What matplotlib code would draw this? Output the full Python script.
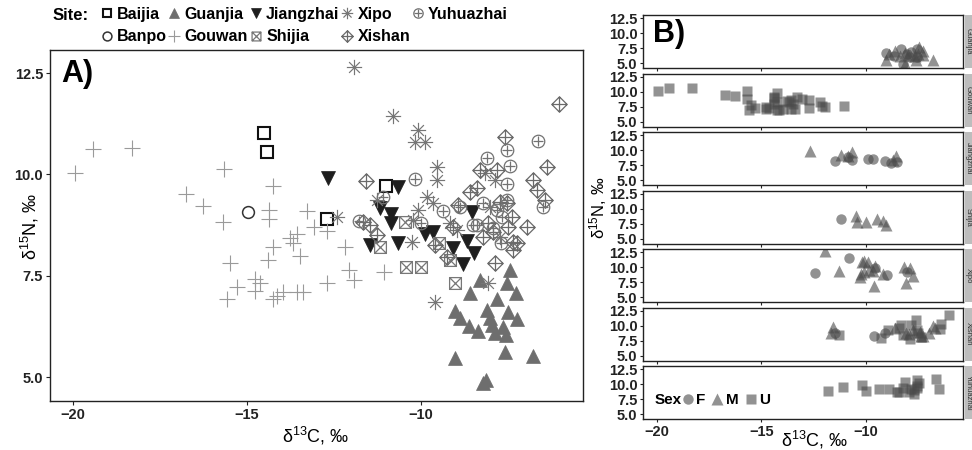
import matplotlib

matplotlib.use("Agg")
import matplotlib.pyplot as plt
from matplotlib.path import Path
from matplotlib.lines import Line2D
from matplotlib.patches import Rectangle

plt.rcParams["font.family"] = ["Liberation Sans", "DejaVu Sans"]
plt.rcParams["mathtext.fontset"] = "custom"
plt.rcParams["mathtext.rm"] = "Liberation Sans"
plt.rcParams["mathtext.it"] = "Liberation Sans:italic"

# ---- data: d13C (c) and d15N (n) per site, sex where panel B shows it ----
baijia_c = [-14.51, -14.43, -12.70, -11.01]
baijia_n = [11.02, 10.55, 8.90, 9.71]

banpo_c = [-14.97]
banpo_n = [9.07]

guanjia_c = [-9.02, -8.22, -8.13, -7.59, -6.78, -9.02, -8.88, -8.62, -8.36, -8.59, -7.82, -8.10,
             -8.02, -7.96, -7.87, -7.64, -7.56, -7.50, -7.24, -7.53, -7.27, -7.45, -8.30]
guanjia_n = [5.46, 4.85, 4.92, 5.61, 5.51, 6.62, 6.45, 6.25, 6.13, 7.07, 6.92, 6.65,
             6.45, 6.28, 6.10, 6.23, 6.03, 6.60, 6.43, 7.31, 7.07, 7.65, 7.40]
guanjia_sex = list("MFMMMFMFMMFMFMFMFMMFMMF")

gouwan_c = [-19.94, -19.43, -18.30, -16.75, -16.26, -15.66, -15.69, -14.25, -14.37, -14.37, -13.28, -13.07,
            -12.70, -13.76, -13.56, -13.68, -14.25, -14.40, -13.48, -15.49, -12.18, -12.07, -11.93, -11.06,
            -15.29, -14.77, -14.63, -14.77, -15.57, -14.25, -14.14, -13.97, -13.56, -13.39, -12.70]
gouwan_n = [10.03, 10.62, 10.65, 9.51, 9.22, 10.13, 8.82, 9.71, 9.12, 8.90, 9.09, 8.70,
            8.60, 8.43, 8.52, 8.30, 8.20, 7.88, 7.98, 7.81, 8.20, 7.64, 7.39, 7.59,
            7.22, 7.41, 7.31, 7.12, 6.92, 6.92, 6.99, 7.09, 7.09, 7.09, 7.31]
gouwan_sex = ["U"] * len(gouwan_c)

jiangzhai_c = [-12.67, -10.66, -11.18, -10.86, -10.86, -11.47, -10.66, -9.89, -9.66, -8.53, -9.08, -8.68,
               -8.48, -8.79]
jiangzhai_n = [9.91, 9.69, 9.17, 9.02, 8.80, 8.25, 8.30, 8.52, 8.57, 9.07, 8.18, 8.35, 8.06, 7.78]
jiangzhai_sex = list("MMMMFFFFFMFMFF")

shijia_c = [-11.18, -10.46, -10.43, -10.00, -9.48, -9.17, -9.02]
shijia_n = [8.20, 8.82, 7.71, 7.71, 8.30, 7.88, 7.31]
shijia_sex = list("FMMMMMM")

xipo_c = [-11.93, -10.80, -10.09, -10.17, -9.89, -9.54, -9.54, -9.83, -9.66, -10.09, -10.23, -10.26,
          -12.41, -11.26, -8.16, -7.87, -8.02, -9.17, -8.97, -7.73, -8.07, -9.60]
xipo_n = [12.65, 11.44, 11.09, 10.80, 10.80, 10.18, 9.86, 9.44, 9.29, 9.12, 8.87, 8.33,
          8.94, 9.36, 10.03, 9.86, 9.19, 8.80, 8.62, 8.45, 7.31, 6.85]
xipo_sex = list("MFMMMMFMMMMMFMMMFMFMMM")

xishan_c = [-6.03, -7.59, -6.38, -6.78, -6.67, -6.44, -6.95, -7.24, -7.87, -8.30, -7.82, -8.59,
            -8.39, -8.94, -9.08, -7.73, -7.53, -7.39, -9.25, -9.60, -8.07, -8.22, -7.93, -7.50,
            -7.36, -11.58, -11.67, -11.47, -11.26, -7.36]
xishan_n = [11.73, 10.92, 10.18, 9.86, 9.61, 9.36, 8.70, 8.30, 7.81, 10.10, 10.10, 9.56,
            9.66, 9.24, 8.70, 9.31, 9.29, 8.94, 7.96, 8.25, 8.80, 8.45, 8.57, 8.70,
            8.33, 9.83, 8.82, 8.75, 8.50, 8.13]
xishan_sex = list("UUUMMUMMUUUMUUFMUMUFMUMUMMMFUU")

yuhuazhai_c = [-6.64, -7.53, -8.10, -7.44, -7.53, -10.17, -8.88, -8.39, -7.82, -7.67, -7.93, -6.49,
               -7.53, -8.51, -11.78, -11.09, -10.00, -9.35, -8.20, -7.70]
yuhuazhai_n = [10.82, 10.60, 10.40, 10.20, 9.76, 9.88, 9.19, 8.75, 9.12, 8.94, 8.67, 9.19,
               9.36, 8.75, 8.85, 9.44, 8.80, 9.10, 9.30, 8.30]
yuhuazhai_sex = ["U"] * len(yuhuazhai_c)

SITES = ["Baijia", "Banpo", "Guanjia", "Gouwan", "Jiangzhai", "Shijia", "Xipo", "Xishan", "Yuhuazhai"]
FACET_SITES = ["Guanjia", "Gouwan", "Jiangzhai", "Shijia", "Xipo", "Xishan", "Yuhuazhai"]
SEXES = ["F", "M", "U"]

site_data = {
    "Baijia": (baijia_c, baijia_n, None),
    "Banpo": (banpo_c, banpo_n, None),
    "Guanjia": (guanjia_c, guanjia_n, guanjia_sex),
    "Gouwan": (gouwan_c, gouwan_n, gouwan_sex),
    "Jiangzhai": (jiangzhai_c, jiangzhai_n, jiangzhai_sex),
    "Shijia": (shijia_c, shijia_n, shijia_sex),
    "Xipo": (xipo_c, xipo_n, xipo_sex),
    "Xishan": (xishan_c, xishan_n, xishan_sex),
    "Yuhuazhai": (yuhuazhai_c, yuhuazhai_n, yuhuazhai_sex),
}


# ---- ggplot-like open shapes (boxtimes, asterisk, diamond plus, circle plus) ----
def seg_path(segments, base=None):
    verts, codes = [], []
    for a, b in segments:
        verts += [a, b]
        codes += [Path.MOVETO, Path.LINETO]
    p = Path(verts, codes)
    return Path.make_compound_path(base, p) if base is not None else p


d = 0.7071
PLUS = [((-1, 0), (1, 0)), ((0, -1), (0, 1))]
square = Path([(-1, -1), (1, -1), (1, 1), (-1, 1), (-1, -1)], closed=True)
diamond = Path([(0, 1), (1, 0), (0, -1), (-1, 0), (0, 1)], closed=True)
boxtimes = seg_path([((-1, -1), (1, 1)), ((-1, 1), (1, -1))], square)
asterisk = seg_path(PLUS + [((-d, -d), (d, d)), ((-d, d), (d, -d))])
diamondplus = seg_path(PLUS, diamond)
circleplus = seg_path([((-0.8, 0), (0.8, 0)), ((0, -0.8), (0, 0.8))], Path.circle((0, 0), 1))

site_style = {
    "Baijia": dict(marker="s", ms=8.5, mfc="none", mec="#111111", mew=1.5),
    "Banpo": dict(marker="o", ms=8.5, mfc="none", mec="#333333", mew=1.1),
    "Guanjia": dict(marker="^", ms=9.5, mfc="#6e6e6e", mec="#6e6e6e", mew=0.5),
    "Gouwan": dict(marker="+", ms=11, mec="#9a9a9a", mew=0.8),
    "Jiangzhai": dict(marker="v", ms=9.5, mfc="#1e1e1e", mec="#1e1e1e", mew=0.5),
    "Shijia": dict(marker=boxtimes, ms=8.5, mfc="none", mec="#777777", mew=0.9),
    "Xipo": dict(marker=asterisk, ms=11, mfc="none", mec="#767676", mew=0.85),
    "Xishan": dict(marker=diamondplus, ms=11, mfc="none", mec="#6a6a6a", mew=0.9),
    "Yuhuazhai": dict(marker=circleplus, ms=9, mfc="none", mec="#727272", mew=0.9),
}
sex_marker = {"F": ("o", 7.5), "M": ("^", 8.5), "U": ("s", 7)}

XLIM = (-20.66, -5.34)
YLIM = (4.41, 13.07)
W, H = 972, 450

fig = plt.figure(figsize=(W / 100, H / 100), dpi=100)

# ---------------- panel A ----------------
ax = fig.add_axes([50 / W, 1 - 401 / H, 533 / W, 351 / H])
for site in SITES:
    c, n, _ = site_data[site]
    ax.plot(c, n, ls="none", label=site, **site_style[site])
ax.set_xlim(*XLIM)
ax.set_ylim(*YLIM)
ax.set_xticks([-20, -15, -10])
ax.set_xticklabels(["\u221220", "\u221215", "\u221210"])
ax.set_yticks([5.0, 7.5, 10.0, 12.5])
ax.set_yticklabels(["5.0", "7.5", "10.0", "12.5"])
ax.tick_params(length=3, width=0.8, pad=2, labelsize=10.5, colors="#222222")
for lab in ax.get_xticklabels() + ax.get_yticklabels():
    lab.set_fontweight("bold")
for sp in ax.spines.values():
    sp.set_linewidth(1.0)
    sp.set_color("#222222")
ax.text(0.022, 0.975, "A)", transform=ax.transAxes, ha="left", va="top",
        fontsize=22, fontweight="bold")

fig.text(316 / W, 1 - 436 / H, r"δ$^{13}$C, ‰", ha="center", va="center", fontsize=13)
fig.text(30 / W, 1 - 226 / H, r"δ$^{15}$N, ‰", ha="center", va="center",
         rotation=90, fontsize=13)

# site legend across the top
handles, labels = ax.get_legend_handles_labels()
fig.text(53 / W, 1 - 16 / H, "Site:", ha="left", va="center", fontsize=12, fontweight="bold")
fig.legend(handles, labels, ncol=5, loc="upper left", bbox_to_anchor=(101 / W, 1 - 7 / H),
           frameon=False, prop=dict(weight="bold", size=11.5), markerscale=0.75,
           handlelength=0.7, handletextpad=0.3, columnspacing=0.12, labelspacing=0.45,
           borderpad=0, borderaxespad=0)

# ---------------- panel B (facets by site, shape = sex) ----------------
for k, site in enumerate(FACET_SITES):
    top = 15 + 58.5 * k
    axb = fig.add_axes([643 / W, 1 - (top + 53) / H, 320 / W, 53 / H])
    c, n, sex = site_data[site]
    for s in SEXES:
        xs = [x for x, g in zip(c, sex) if g == s]
        ys = [y for y, g in zip(n, sex) if g == s]
        m, ms = sex_marker[s]
        axb.plot(xs, ys, ls="none", marker=m, ms=ms, mfc="#4a4a4a", mec="none", alpha=0.6)
    axb.set_xlim(*XLIM)
    axb.set_ylim(4.2, 13.0)
    axb.set_yticks([5.0, 7.5, 10.0, 12.5])
    axb.set_yticklabels(["5.0", "7.5", "10.0", "12.5"])
    axb.set_xticks([-20, -15, -10])
    if k == len(FACET_SITES) - 1:
        axb.set_xticklabels(["\u221220", "\u221215", "\u221210"])
    else:
        axb.set_xticklabels([])
        axb.tick_params(axis="x", length=0)
    axb.tick_params(length=2.5, width=0.8, pad=1.5, labelsize=10.5, colors="#222222")
    for lab in axb.get_xticklabels() + axb.get_yticklabels():
        lab.set_fontweight("bold")
    for sp in axb.spines.values():
        sp.set_linewidth(1.0)
        sp.set_color("#222222")
    # facet strip on the right, narrow as in the original
    axb.add_patch(Rectangle((1.006, 0), 0.08, 1, transform=axb.transAxes, clip_on=False,
                            fc="#bdbdbd", ec="none"))
    axb.text(1.0155, 0.5, site, transform=axb.transAxes, rotation=270, ha="center",
             va="center", fontsize=5.5, color="#333333")
    if k == 0:
        axb.text(0.03, 0.93, "B)", transform=axb.transAxes, ha="left", va="top",
                 fontsize=22, fontweight="bold")
    if k == len(FACET_SITES) - 1:
        axb.text(0.035, 0.36, "Sex", transform=axb.transAxes, ha="left", va="center",
                 fontsize=11, fontweight="bold")
        sex_handles = [Line2D([], [], ls="none", marker=sex_marker[s][0], ms=sex_marker[s][1],
                              mfc="#4a4a4a", mec="none", alpha=0.6) for s in SEXES]
        axb.legend(sex_handles, SEXES, ncol=3, loc="center left", bbox_to_anchor=(0.12, 0.36),
                   frameon=False, prop=dict(weight="bold", size=11), handlelength=0.8,
                   handletextpad=0.15, columnspacing=0.4, borderpad=0, borderaxespad=0)

fig.text(598 / W, 1 - 208 / H, r"δ$^{15}$N, ‰", ha="center", va="center",
         rotation=90, fontsize=12)
fig.text(815 / W, 1 - 440 / H, r"δ$^{13}$C, ‰", ha="center", va="center", fontsize=13)

fig.savefig("out.png", dpi=100)
